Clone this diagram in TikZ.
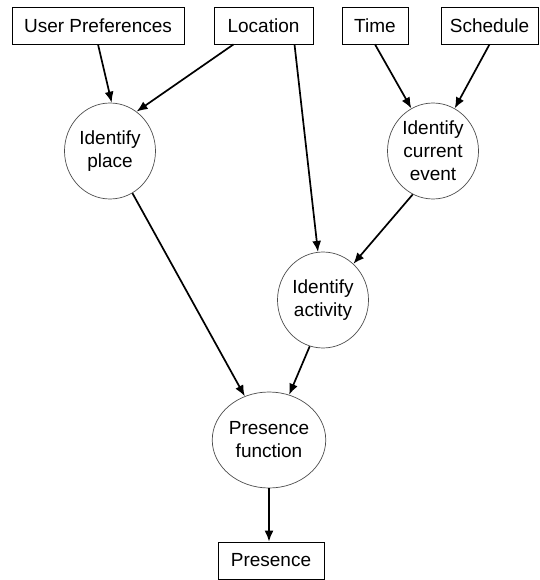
\documentclass[tikz,border=0pt]{standalone}
\usepackage{fontspec}
\setmainfont{Liberation Sans}
\usetikzlibrary{shapes.geometric,arrows.meta}

\tikzset{
  src/.style={rectangle, draw=black, line width=0.8pt, inner sep=0pt, minimum height=37pt, font=\fontsize{19}{23}\selectfont},
  proc/.style={ellipse, draw=black!70, line width=0.7pt, inner sep=0pt, minimum width=91pt, minimum height=96pt, align=center, font=\fontsize{19}{23}\selectfont},
  flow/.style={line width=1.7pt, -{Latex[length=11pt,width=9pt]}}
}

\begin{document}
\begin{tikzpicture}[x=1pt, y=-1pt]
\useasboundingbox (0,0) rectangle (539,580);

\node (up) [src, minimum width=172pt] at (98,25.5) {User Preferences};
\node (loc) [src, minimum width=99pt] at (263.5,25.5) {Location};
\node (time) [src, minimum width=66pt] at (375,25.5) {Time};
\node (sched) [src, minimum width=97pt] at (489.5,25.5) {Schedule};

\node (place) [proc] at (110,151) {Identify\\place};
\node (event) [proc] at (433,151) {Identify\\current\\event};
\node (act) [proc] at (323,300) {Identify\\activity};
\node (pf) [proc] at (269,440) {Presence\\function};

\node (pres) [src, minimum width=106pt] at (271,560.5) {Presence};

\draw[flow] (up.south) -- (place.88);
\draw[flow] ([xshift=-30pt]loc.south) -- (place.56);
\draw[flow] ([xshift=31pt]loc.south) -- (act.96);
\draw[flow] (time.south) -- (event.117);
\draw[flow] (sched.south) -- (event.63);
\draw[flow] (event.245) -- (act.50);
\draw[flow] (place.298) -- (pf.119);
\draw[flow] (act.254) -- (pf.66);
\draw[flow] (pf.south) -- (pf.south |- pres.north);

\end{tikzpicture}
\end{document}
